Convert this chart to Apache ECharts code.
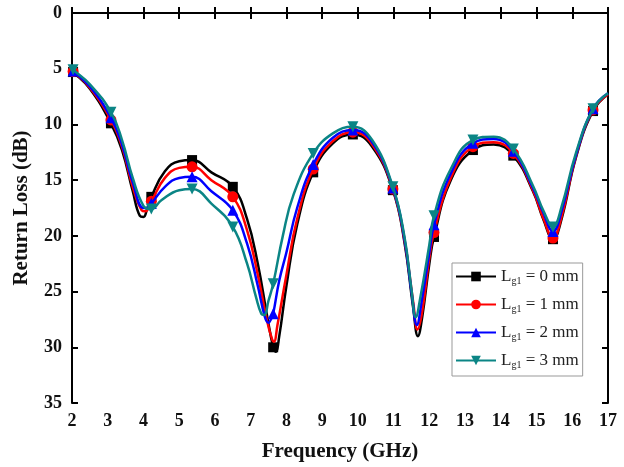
<!DOCTYPE html>
<html>
<head>
<meta charset="utf-8">
<script src="https://cdn.jsdelivr.net/npm/echarts@6/dist/echarts.min.js"></script>
<style>html,body{margin:0;padding:0;background:#fff;}#c{width:624px;height:467px;}</style>
</head>
<body>
<div id="c"></div>
<script>
var seriesNames = ['Lg1 = 0 mm', 'Lg1 = 1 mm', 'Lg1 = 2 mm', 'Lg1 = 3 mm'];
var markerFreq = [2.03, 3.09, 4.22, 5.36, 6.5, 7.63, 8.75, 9.86, 10.98, 12.13, 13.22, 14.35, 15.46, 16.58];
var xTicks = [2, 17, 1];
var yTicks = [0, 35, 5];

var freq0 = [2.0, 2.03, 2.5, 3.09, 3.4, 3.7, 3.9, 4.0, 4.1, 4.22, 4.6, 5.0, 5.36, 5.9, 6.5, 6.9, 7.2, 7.45, 7.63, 7.7, 7.8, 8.0, 8.3, 8.75, 9.3, 9.86, 10.4, 10.98, 11.3, 11.55, 11.68, 11.8, 12.0, 12.13, 12.6, 13.22, 13.8, 14.35, 14.9, 15.2, 15.46, 15.7, 16.1, 16.58, 17.0];
var rl0   = [5.25, 5.3, 6.8, 9.9, 12.3, 16.0, 18.2, 18.3, 17.6, 16.5, 14.2, 13.3, 13.2, 14.3, 15.6, 18.5, 22.5, 27.0, 30.0, 30.4, 29.0, 24.5, 19.0, 14.3, 11.7, 10.9, 12.0, 15.9, 20.5, 26.5, 29.0, 27.3, 22.5, 20.1, 15.0, 12.3, 11.8, 12.8, 16.0, 18.6, 20.3, 18.5, 13.0, 8.8, 7.3];

var freq1 = [2.0, 2.03, 2.5, 3.09, 3.4, 3.7, 3.95, 4.05, 4.22, 4.6, 5.0, 5.36, 5.9, 6.5, 6.9, 7.2, 7.45, 7.6, 7.65, 7.75, 8.0, 8.3, 8.75, 9.3, 9.86, 10.4, 10.98, 11.3, 11.55, 11.67, 11.8, 12.0, 12.13, 12.6, 13.22, 13.8, 14.35, 14.9, 15.2, 15.46, 15.7, 16.1, 16.58, 17.0];
var rl1   = [5.2, 5.25, 6.7, 9.6, 12.0, 15.6, 17.7, 17.8, 16.9, 14.8, 13.9, 13.8, 15.0, 16.5, 19.5, 23.5, 27.5, 29.3, 29.5, 28.0, 23.5, 18.5, 14.0, 11.5, 10.7, 11.8, 15.8, 20.3, 26.0, 28.4, 26.8, 22.0, 19.7, 14.8, 12.0, 11.6, 12.6, 15.9, 18.5, 20.2, 18.3, 12.9, 8.7, 7.3];

var freq2 = [2.0, 2.03, 2.5, 3.09, 3.4, 3.7, 4.0, 4.1, 4.22, 4.6, 5.0, 5.36, 5.9, 6.5, 6.9, 7.2, 7.4, 7.5, 7.58, 7.63, 7.8, 8.0, 8.3, 8.75, 9.3, 9.86, 10.4, 10.98, 11.3, 11.52, 11.65, 11.78, 12.0, 12.13, 12.6, 13.22, 13.8, 14.35, 14.9, 15.2, 15.46, 15.7, 16.1, 16.58, 17.0];
var rl2   = [5.15, 5.2, 6.6, 9.4, 11.8, 15.2, 17.5, 17.5, 17.1, 15.6, 14.8, 14.7, 16.0, 17.7, 20.7, 24.5, 27.3, 27.8, 27.4, 27.0, 24.0, 21.5, 17.5, 13.6, 11.2, 10.5, 11.6, 15.7, 20.2, 25.5, 28.0, 26.0, 21.5, 19.0, 14.4, 11.7, 11.3, 12.4, 15.7, 18.0, 19.6, 17.8, 12.8, 8.6, 7.2];

var freq3 = [2.0, 2.03, 2.5, 3.09, 3.4, 3.7, 4.0, 4.22, 4.5, 5.0, 5.36, 5.9, 6.5, 6.9, 7.15, 7.3, 7.38, 7.5, 7.63, 7.9, 8.2, 8.75, 9.3, 9.86, 10.4, 10.98, 11.3, 11.5, 11.62, 11.75, 12.0, 12.13, 12.6, 13.22, 13.8, 14.35, 14.9, 15.2, 15.46, 15.7, 16.1, 16.58, 17.0];
var rl3   = [5.05, 5.1, 6.4, 8.9, 11.4, 14.8, 17.3, 17.6, 16.8, 15.9, 15.8, 17.1, 19.2, 22.5, 25.5, 27.0, 27.1, 25.8, 24.3, 20.0, 16.3, 12.6, 10.8, 10.2, 11.4, 15.6, 20.0, 24.8, 27.3, 25.5, 20.8, 18.2, 14.0, 11.4, 11.1, 12.2, 15.5, 17.8, 19.2, 17.4, 12.6, 8.6, 7.2];

var colors = ['#000000', '#ff0000', '#0000ff', '#0b8585'];
var symbols = ['rect', 'circle', 'triangle', 'triangle'];
var rotations = [0, 0, 0, 180];
var freqs = [freq0, freq1, freq2, freq3];
var rls = [rl0, rl1, rl2, rl3];

function isMarker(f) {
  for (var i = 0; i < markerFreq.length; i++) {
    if (Math.abs(markerFreq[i] - f) < 1e-6) return true;
  }
  return false;
}

var series = seriesNames.map(function (name, k) {
  var data = freqs[k].map(function (f, i) { return [f, rls[k][i]]; });
  return {
    name: name,
    type: 'line',
    data: data,
    smooth: 0.45,
    symbol: symbols[k],
    symbolRotate: rotations[k],
    symbolSize: function (v) { return isMarker(v[0]) ? (k === 0 ? 10 : 11) : 0; },
    showAllSymbol: true,
    color: colors[k],
    lineStyle: { width: 2.5, color: colors[k] },
    itemStyle: { color: colors[k] },
    z: 2 + k
  };
});

var font = 'Liberation Serif';
var chart = echarts.init(document.getElementById('c'), null, { renderer: 'canvas' });
chart.setOption({
  animation: false,
  backgroundColor: '#ffffff',
  grid: { left: 72, top: 13, right: 16, bottom: 63 },
  legend: {
    orient: 'vertical',
    left: 452,
    top: 263,
    width: 134,
    itemWidth: 40,
    itemHeight: 12,
    itemGap: 9,
    padding: [4, 4, 6, 3],
    borderColor: '#999',
    borderWidth: 1,
    backgroundColor: '#fff',
    data: seriesNames,
    formatter: function (n) { return '{a|L}{s|g1}{a|' + n.slice(3) + '}'; },
    textStyle: {
      fontFamily: font, color: '#222',
      rich: {
        a: { fontFamily: font, fontSize: 17, color: '#222', lineHeight: 18 },
        s: { fontFamily: font, fontSize: 10, color: '#222', padding: [9, 0, 0, 0], lineHeight: 18 }
      }
    }
  },
  xAxis: [{
    type: 'value', min: xTicks[0], max: xTicks[1], interval: xTicks[2],
    name: 'Frequency (GHz)', nameLocation: 'middle', nameGap: 38,
    nameTextStyle: { fontFamily: font, fontWeight: 'bold', fontSize: 21, color: '#111' },
    axisLine: { show: true, lineStyle: { color: '#000', width: 2 } },
    axisTick: { inside: true, length: 6, lineStyle: { color: '#000', width: 2 } },
    axisLabel: { fontFamily: font, fontWeight: 'bold', fontSize: 18, color: '#111', margin: 9 },
    splitLine: { show: false }
  }, {
    type: 'value', position: 'top', min: xTicks[0], max: xTicks[1], interval: xTicks[2],
    axisLine: { show: true, lineStyle: { color: '#000', width: 2 } },
    axisTick: { inside: true, length: 6, lineStyle: { color: '#000', width: 2 } },
    axisLabel: { show: false }, splitLine: { show: false }
  }],
  yAxis: [{
    type: 'value', inverse: true, min: yTicks[0], max: yTicks[1], interval: yTicks[2],
    name: 'Return Loss (dB)', nameLocation: 'middle', nameGap: 40, nameRotate: 90,
    nameTextStyle: { fontFamily: font, fontWeight: 'bold', fontSize: 21, color: '#111' },
    axisLine: { show: true, lineStyle: { color: '#000', width: 2 } },
    axisTick: { inside: true, length: 6, lineStyle: { color: '#000', width: 2 } },
    axisLabel: { fontFamily: font, fontWeight: 'bold', fontSize: 18, color: '#111', margin: 10 },
    splitLine: { show: false }
  }, {
    type: 'value', position: 'right', inverse: true, min: yTicks[0], max: yTicks[1], interval: yTicks[2],
    axisLine: { show: true, lineStyle: { color: '#000', width: 2 } },
    axisTick: { inside: true, length: 6, lineStyle: { color: '#000', width: 2 } },
    axisLabel: { show: false }, splitLine: { show: false }
  }],
  series: series
});
</script>
</body>
</html>
